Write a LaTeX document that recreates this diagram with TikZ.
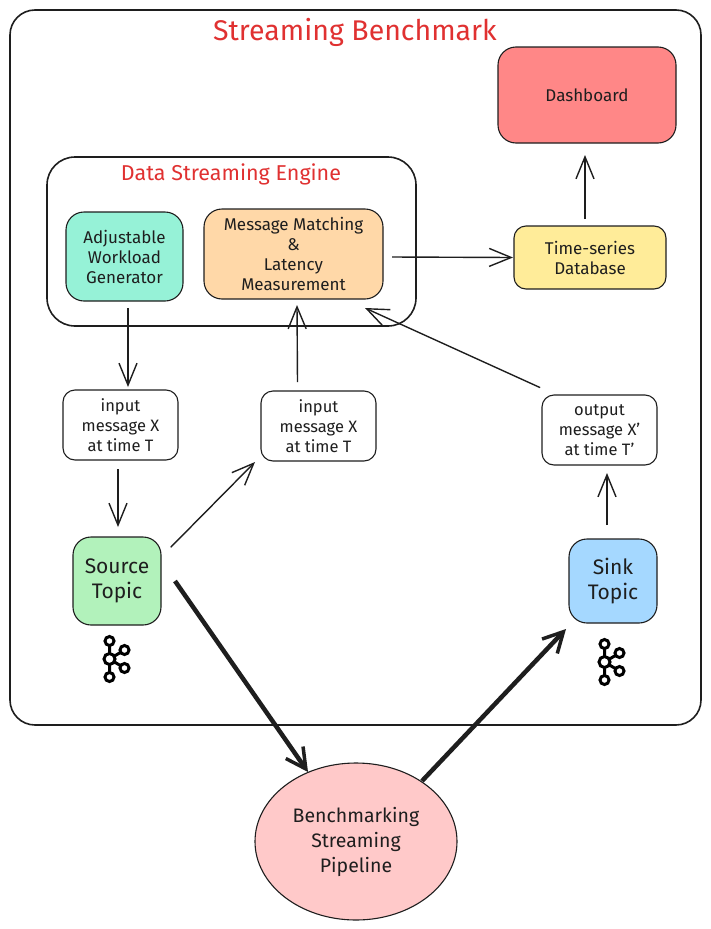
\documentclass[tikz,border=0pt]{standalone}
\usepackage{fontspec}
\setmainfont{Fira Sans}
\usetikzlibrary{shapes.geometric, arrows.meta, positioning, calc}
\definecolor{titlered}{HTML}{E03131}
\definecolor{inkblack}{HTML}{1E1E1E}
\definecolor{dashred}{HTML}{FF8787}
\definecolor{genteal}{HTML}{96F2D7}
\definecolor{matchorange}{HTML}{FFD8A8}
\definecolor{dbyellow}{HTML}{FFEC99}
\definecolor{srcgreen}{HTML}{B2F2BB}
\definecolor{sinkblue}{HTML}{A5D8FF}
\definecolor{pipepink}{HTML}{FFC9C9}
\tikzstyle{box} = [rectangle, rounded corners=18pt, draw=inkblack, line width=1.1pt, align=center, inner sep=0pt, outer sep=0pt, text=inkblack, font=\fontsize{17}{20}\selectfont]
\tikzstyle{msg} = [box, rounded corners=12pt, minimum width=115pt, minimum height=70pt, fill=white, font=\fontsize{16.5}{20}\selectfont]
\tikzstyle{topic} = [box, minimum width=88pt, font=\fontsize{21}{25}\selectfont]
\tikzstyle{frame} = [rectangle, draw=inkblack, line width=1.6pt]
\tikzstyle{heading} = [text=titlered, inner sep=0pt]
\tikzstyle{arrow} = [draw=inkblack, line width=1.4pt, -{Straight Barb[length=22pt,width=18pt,line width=1.4pt]}, shorten <=1pt]
\tikzstyle{bigarrow} = [draw=inkblack, line width=4.5pt, -{Straight Barb[length=20pt,width=21pt,line width=3.5pt]}]
\tikzset{
    kafkaicon/.pic={
        \tikzstyle{ring} = [circle, draw=black, line width=3pt, fill=white, inner sep=0pt];
        \draw [black, line width=3pt] (0,-18) -- (0,18) (0,0) -- (15,-9) (0,0) -- (15,9);
        \node (-top) [ring, minimum size=9pt] at (0,-18) {};
        \node (-hub) [ring, minimum size=11pt] at (0,0) {};
        \node (-bot) [ring, minimum size=9pt] at (0,18) {};
        \node (-up) [ring, minimum size=9pt] at (15,-9) {};
        \node (-low) [ring, minimum size=9pt] at (15,9) {};
    }
}

\begin{document}
\begin{tikzpicture}[x=1pt, y=-1pt]
    \useasboundingbox (0,0) rectangle (710,929);

    \node (bench) [frame, rounded corners=25pt, minimum width=691pt, minimum height=715pt] at (355.5,367.5) {};
    \node (benchtitle) [heading, font=\fontsize{28.5}{32}\selectfont] at (355,32) {Streaming Benchmark};

    \node (engine) [frame, rounded corners=28pt, minimum width=369pt, minimum height=169pt] at (231.5,241.5) {};
    \node (enginetitle) [heading, font=\fontsize{21.5}{24}\selectfont] at (231,174) {Data Streaming Engine};

    \node (match) [box, fill=matchorange, minimum width=179pt, minimum height=90pt] at (293.5,254) {Message Matching\\\&\\Latency\\Measurement};
    \node (gen) [box, fill=genteal, left=21pt of match, yshift=-2.5pt, minimum width=117pt, minimum height=89pt] {Adjustable\\Workload\\Generator};

    \node (dash) [box, fill=dashred, minimum width=178pt, minimum height=96pt] at (587,95) {Dashboard};
    \node (tsdb) [box, fill=dbyellow, rounded corners=12pt, below=83pt of dash, xshift=3pt, minimum width=152pt, minimum height=63pt] {Time-series\\Database};

    \node (inA) [msg, below=89pt of gen, xshift=-4pt] {input\\message X\\at time T};
    \node (inB) [msg, below=92pt of match, xshift=25pt] {input\\message X\\at time T};
    \node (outC) [msg, below=106pt of tsdb, xshift=9.5pt] {output\\message X'\\at time T'};

    \node (source) [topic, fill=srcgreen, below=77pt of inA, xshift=-3.5pt, minimum height=88pt] {Source\\Topic};
    \node (sink) [topic, fill=sinkblue, below=74pt of outC, xshift=13.5pt, minimum height=84pt] {Sink\\Topic};

    \node (pipe) [ellipse, draw=inkblack, line width=1.1pt, fill=pipepink, align=center, inner sep=0pt, outer sep=0pt, minimum width=202pt, minimum height=157pt, text=inkblack, font=\fontsize{19.5}{25}\selectfont] at (356,841.5) {Benchmarking\\Streaming\\Pipeline};

    \pic (srcicon) at (109.5,659) {kafkaicon};
    \pic (sinkicon) at (604.5,662) {kafkaicon};

    \draw [arrow] ([xshift=3.5pt,yshift=-6pt]gen.south) -- ([xshift=7.5pt,yshift=3pt]inA.north);
    \draw [arrow] ([xshift=-2.5pt,yshift=-8pt]inA.south) -- ([xshift=1pt,yshift=10pt]source.north);
    \draw [arrow] ([xshift=9pt,yshift=-11pt]source.north east) -- ([xshift=-6pt,yshift=-1pt]inB.south west);
    \draw [arrow] ([xshift=-21pt,yshift=8pt]inB.north) -- ([xshift=3.5pt,yshift=-6pt]match.south);
    \draw [arrow] ([xshift=-1pt,yshift=7pt]outC.north west) -- ([xshift=-18pt,yshift=-9pt]match.south east);
    \draw [arrow] ([xshift=-6pt,yshift=13pt]sink.north) -- ([xshift=7.5pt,yshift=-8pt]outC.south);
    \draw [arrow] ([xshift=8pt,yshift=-3pt]match.east) -- ([xshift=-1pt]tsdb.west);
    \draw [arrow] ([xshift=-5pt,yshift=6pt]tsdb.north) -- ([xshift=-2pt,yshift=-12pt]dash.south);

    \draw [bigarrow] ([xshift=14pt,yshift=0pt]source.east) -- ([xshift=-48pt,yshift=-9pt]pipe.north);
    \draw [bigarrow] ([xshift=66pt,yshift=-18pt]pipe.north) -- ([xshift=-3pt,yshift=-6pt]sink.south west);
\end{tikzpicture}
\end{document}
